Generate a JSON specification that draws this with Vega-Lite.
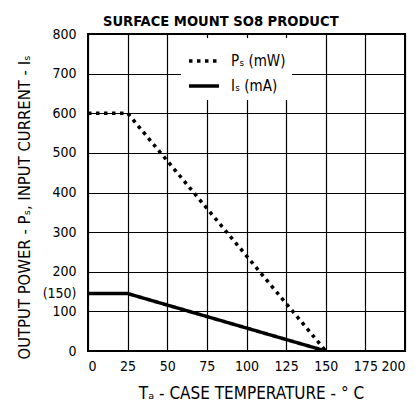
{
  "$schema": "https://vega.github.io/schema/vega-lite/v6.json",
  "width": 317,
  "height": 317,
  "padding": {"left": 16, "top": 14, "right": 8, "bottom": 2},
  "background": "white",
  "title": {
    "text": "SURFACE MOUNT SO8 PRODUCT",
    "anchor": "start",
    "frame": "group",
    "dx": 15,
    "offset": -2,
    "font": "DejaVu Sans Condensed, Liberation Sans",
    "fontSize": 14.6,
    "fontWeight": "bold",
    "color": "#000"
  },
  "data": {
    "values": [
      {"series": "P", "t": 0, "v": 600},
      {"series": "P", "t": 25, "v": 600},
      {"series": "P", "t": 150, "v": 0},
      {"series": "I", "t": 0, "v": 145},
      {"series": "I", "t": 25, "v": 145},
      {"series": "I", "t": 150, "v": 0}
    ]
  },
  "mark": {"type": "line", "color": "black", "strokeWidth": 3.5, "clip": true},
  "encoding": {
    "x": {
      "field": "t",
      "type": "quantitative",
      "scale": {"domain": [0, 200], "nice": false},
      "axis": {
        "values": [0, 25, 50, 75, 100, 125, 150, 175, 200],
        "title": "Tₐ  -  CASE TEMPERATURE -  ° C",
        "titleFontSize": 17,
        "titleX": 163,
        "titlePadding": 12
      }
    },
    "y": {
      "field": "v",
      "type": "quantitative",
      "scale": {"domain": [0, 800], "nice": false},
      "axis": {
        "values": [0, 100, 145, 200, 300, 400, 500, 600, 700, 800],
        "labelExpr": "datum.value == 145 ? '(150)' : datum.label",
        "labelOverlap": false,
        "gridOpacity": {"condition": {"test": "datum.value == 145", "value": 0}, "value": 1},
        "title": "OUTPUT POWER  -  Pₛ, INPUT CURRENT - Iₛ",
        "titleFontSize": 16.5,
        "titleY": 173,
        "titlePadding": 10
      }
    },
    "strokeDash": {
      "field": "series",
      "type": "nominal",
      "scale": {"domain": ["P", "I"], "range": [[3.5, 4.5], [1, 0]]},
      "legend": {
        "orient": "none",
        "legendX": 93,
        "legendY": 4,
        "title": null,
        "fillColor": "white",
        "padding": 6,
        "symbolType": "stroke",
        "symbolSize": 900,
        "symbolStrokeWidth": 3.5,
        "symbolStrokeColor": "black",
        "labelOffset": 10,
        "rowPadding": 0,
        "labelFont": "DejaVu Sans Condensed, Liberation Sans",
        "labelFontSize": 15,
        "labelColor": "black",
        "labelExpr": "datum.value == 'P' ? 'Pₛ (mW)' : 'Iₛ (mA)'"
      }
    }
  },
  "config": {
    "view": {"stroke": "black", "strokeWidth": 2},
    "axis": {
      "grid": true,
      "gridColor": "black",
      "gridWidth": 1.2,
      "domain": false,
      "ticks": false,
      "labelFont": "DejaVu Sans Condensed, Liberation Sans",
      "labelFontSize": 14,
      "labelColor": "black",
      "titleFont": "DejaVu Sans Condensed, Liberation Sans",
      "titleFontWeight": "normal",
      "titleColor": "black"
    },
    "axisY": {"labelPadding": 12},
    "axisX": {"labelPadding": 8}
  }
}
